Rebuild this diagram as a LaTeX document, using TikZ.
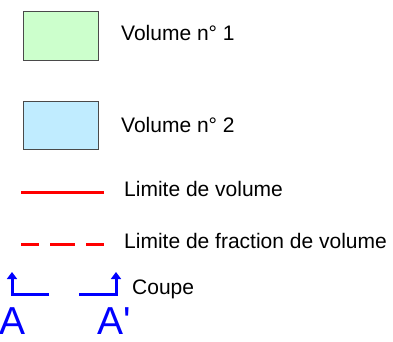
\documentclass[tikz,border=0pt]{standalone}
\usepackage{fontspec}
\setmainfont{Liberation Sans}
\usetikzlibrary{arrows.meta}
\definecolor{vgreen}{HTML}{CCFFCC}
\definecolor{vblue}{HTML}{C0ECFF}
\definecolor{vborder}{HTML}{4A4A4A}
\definecolor{cblue}{HTML}{0000FF}
\tikzset{
  legbox/.style={draw=vborder, line width=0.8pt},
  legtext/.style={anchor=base west, inner sep=0pt, font=\fontsize{21}{24}\selectfont},
  limline/.style={draw=red, line width=3pt},
  cutline/.style={draw=cblue, line width=3pt, -{Triangle[width=10pt,length=7pt]}},
  bigletter/.style={anchor=base west, inner sep=0pt, text=cblue, font=\fontsize{39}{40}\selectfont}
}
\begin{document}
\begin{tikzpicture}[x=1pt,y=-1pt]
\useasboundingbox (0,0) rectangle (393,341);
\draw[legbox, fill=vgreen] (23,11) rectangle (98,60);
\draw[legbox, fill=vblue] (23,101) rectangle (98,149);
\node[legtext] (t1) at (121,40) {Volume n° 1};
\node[legtext] (t2) at (121,132) {Volume n° 2};
\coordinate (l1a) at (21,192);
\coordinate (l1b) at (104,192);
\draw[limline] (l1a) -- (l1b);
\node[legtext] (t3) at (124,196) {Limite de volume};
\coordinate (l2a) at (21,244);
\coordinate (l2b) at (104,244);
\draw[limline, dash pattern=on 18pt off 11pt on 25pt off 11pt on 18pt off 11pt] (l2a) -- (l2b);
\node[legtext] (t4) at (124,248) {Limite de fraction de volume};
\coordinate (c1a) at (49,294);
\coordinate (c1b) at (12,294);
\coordinate (c1c) at (12,272);
\draw[cutline] (c1a) -- (c1b) -- (c1c);
\coordinate (c2a) at (79,294);
\coordinate (c2b) at (116,294);
\coordinate (c2c) at (116,272);
\draw[cutline] (c2a) -- (c2b) -- (c2c);
\node[legtext] (t5) at (132,294) {Coupe};
\node[bigletter] (A) at (-1,334) {A};
\node[bigletter] (Ap) at (97,334) {A\textquotesingle};
\end{tikzpicture}
\end{document}
